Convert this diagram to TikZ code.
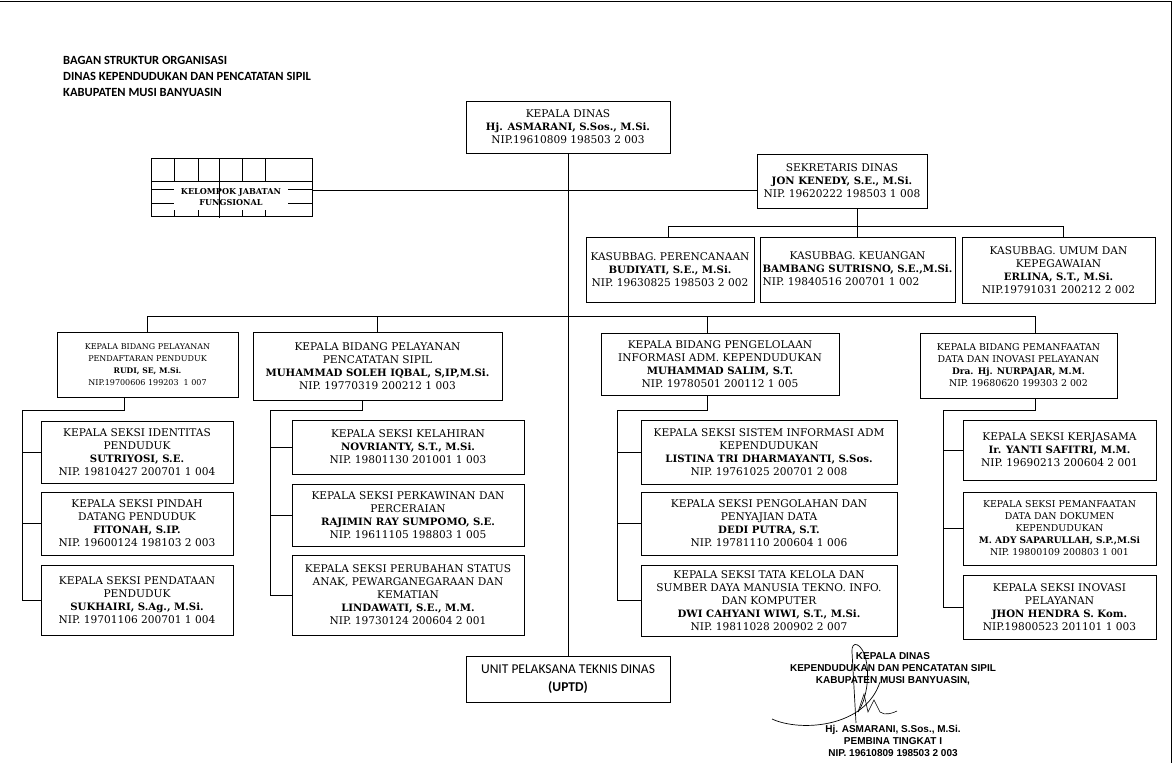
\documentclass[tikz,border=0pt]{standalone}
\usepackage{fontspec}
\setmainfont{DejaVu Serif}
\newfontfamily\judulfont{Carlito}
\newfontfamily\ttdfont{Liberation Sans}
\usepackage{tikz}
\usetikzlibrary{positioning}
\usetikzlibrary{calc}
\newcommand{\jbox}[6][]{\node(#2)[jab,minimum width=#4pt,minimum height=#5pt,#1] at (#3) {#6}}
\newcommand{\nama}[1]{{\bfseries\fontsize{\dimexpr0.96\dimexpr\csname f@size\endcsname pt\relax}{0}\selectfont #1}}

\begin{document}
\begin{tikzpicture}[
        x=1pt, y=-1pt,
        jab/.style={rectangle,draw=black,line width=0.9pt,align=center,inner sep=1pt,
                    font=\fontsize{10.6}{13}\selectfont},
        kecil/.style={font=\fontsize{8}{12}\selectfont},
        sedang/.style={font=\fontsize{9.4}{12}\selectfont},
        garis/.style={line width=0.8pt},
        ttd/.style={font=\ttdfont\bfseries\fontsize{10}{12}\selectfont,align=center,inner sep=0pt}
      ]
      \useasboundingbox (0,0) rectangle (1173,763);
      \draw[line width=1pt] (0,1) -- (1171,1) -- (1171,763);

      % judul
      \node(judul)[anchor=north west,align=left,inner sep=0pt,
                   font=\judulfont\bfseries\fontsize{12.5}{16}\selectfont] at (63,56)
        {BAGAN STRUKTUR ORGANISASI\\DINAS KEPENDUDUKAN DAN PENCATATAN SIPIL\\KABUPATEN MUSI BANYUASIN};

      % pimpinan dan sekretariat
      \jbox{kadis}{568,127}{204}{52}{KEPALA DINAS\\ \nama{Hj. ASMARANI, S.Sos., M.Si.}\\ NIP.19610809 198503 2 003};
      \jbox{sekdis}{842,181}{170}{54}{SEKRETARIS DINAS\\ \nama{JON KENEDY, S.E., M.Si.}\\ NIP. 19620222 198503 1 008};
      \jbox{ksb1}{670,269.5}{168}{65}{KASUBBAG. PERENCANAAN\\ \nama{BUDIYATI, S.E., M.Si.}\\ NIP. 19630825 198503 2 002};
      \jbox{ksb2}{857.5,269.5}{195}{65}{KASUBBAG. KEUANGAN\\ \nama{BAMBANG SUTRISNO, S.E.,M.Si.}\\
            \rlap{NIP. 19840516 200701 1 002}\phantom{\nama{BAMBANG SUTRISNO, S.E.,M.Si.}}};
      \jbox{ksb3}{1058.5,270}{193}{66}{KASUBBAG. UMUM DAN\\ KEPEGAWAIAN\\ \nama{ERLINA, S.T., M.Si.}\\ NIP.19791031 200212 2 002};

      % kelompok jabatan fungsional
      \node(kjf)[rectangle,draw=black,line width=0.9pt,minimum width=161pt,minimum height=58pt] at (231.5,187) {};
      \draw[thin] (151,181) -- (312,181);
      \foreach \gx in {174,198,242,265} {\draw[thin] (\gx,158) -- (\gx,181); \draw[thin] (\gx,210) -- (\gx,216);}
      \foreach \gy in {189,203} {\draw[thin] (151,\gy) -- (174,\gy); \draw[thin] (288,\gy) -- (312,\gy);}
      \node(kjftext)[align=center,fill=white,inner sep=1pt,font=\bfseries\fontsize{8.1}{11}\selectfont] at (231,197.5) {KELOMPOK JABATAN\\FUNGSIONAL};
      \draw (219,158) -- (219,218);

      % bidang
      \jbox[kecil]{bid1}{147.5,364.5}{181}{65}{KEPALA BIDANG PELAYANAN\\ PENDAFTARAN PENDUDUK\\ \nama{RUDI, SE, M.Si.}\\ NIP.19700606 199203\ \ 1 007};
      \jbox{bid2}{377.5,366}{249}{68}{KEPALA BIDANG PELAYANAN\\ PENCATATAN SIPIL\\ \nama{MUHAMMAD SOLEH IQBAL, S,IP,M.Si.}\\ NIP. 19770319 200212 1 003};
      \jbox{bid3}{720,364}{238}{62}{KEPALA BIDANG PENGELOLAAN\\ INFORMASI ADM. KEPENDUDUKAN\\ \nama{MUHAMMAD SALIM, S.T.}\\ NIP. 19780501 200112 1 005};
      \jbox[sedang]{bid4}{1018.5,365.5}{197}{65}{KEPALA BIDANG PEMANFAATAN\\ DATA DAN INOVASI PELAYANAN\\ \nama{Dra. Hj. NURPAJAR, M.M.}\\ NIP. 19680620 199303 2 002};

      % seksi
      \jbox{s11}{137,452}{192}{62}{KEPALA SEKSI IDENTITAS\\ PENDUDUK\\ \nama{SUTRIYOSI, S.E.}\\ NIP. 19810427 200701 1 004};
      \jbox{s12}{137,523.5}{192}{63}{KEPALA SEKSI PINDAH\\ DATANG PENDUDUK\\ \nama{FITONAH, S.IP.}\\ NIP. 19600124 198103 2 003};
      \jbox{s13}{137,600}{192}{70}{KEPALA SEKSI PENDATAAN\\ PENDUDUK\\ \nama{SUKHAIRI, S.Ag., M.Si.}\\ NIP. 19701106 200701 1 004};
      \jbox{s21}{408,447}{232}{54}{KEPALA SEKSI KELAHIRAN\\ \nama{NOVRIANTY, S.T., M.Si.}\\ NIP. 19801130 201001 1 003};
      \jbox{s22}{408,515}{232}{62}{KEPALA SEKSI PERKAWINAN DAN\\ PERCERAIAN\\ \nama{RAJIMIN RAY SUMPOMO, S.E.}\\ NIP. 19611105 198803 1 005};
      \jbox{s23}{408,595}{232}{80}{KEPALA SEKSI PERUBAHAN STATUS\\ ANAK, PEWARGANEGARAAN DAN\\ KEMATIAN\\ \nama{LINDAWATI, S.E., M.M.}\\ NIP. 19730124 200604 2 001};
      \jbox{s31}{769,452}{256}{64}{KEPALA SEKSI SISTEM INFORMASI ADM\\ KEPENDUDUKAN\\ \nama{LISTINA TRI DHARMAYANTI, S.Sos.}\\ NIP. 19761025 200701 2 008};
      \jbox{s32}{769,523.5}{256}{63}{KEPALA SEKSI PENGOLAHAN DAN\\ PENYAJIAN DATA\\ \nama{DEDI PUTRA, S.T.}\\ NIP. 19781110 200604 1 006};
      \jbox{s33}{769,600.5}{256}{71}{KEPALA SEKSI TATA KELOLA DAN\\ SUMBER DAYA MANUSIA TEKNO. INFO.\\ DAN KOMPUTER\\ \nama{DWI CAHYANI WIWI, S.T., M.Si.}\\ NIP. 19811028 200902 2 007};
      \jbox{s41}{1059.5,450}{193}{60}{KEPALA SEKSI KERJASAMA\\ \nama{Ir. YANTI SAFITRI, M.M.}\\ NIP. 19690213 200604 2 001};
      \jbox[sedang]{s42}{1059.5,528.5}{193}{73}{KEPALA SEKSI PEMANFAATAN\\ DATA DAN DOKUMEN\\ KEPENDUDUKAN\\ \nama{M. ADY SAPARULLAH, S.P.,M.Si}\\ NIP. 19800109 200803 1 001};
      \jbox{s43}{1059.5,607}{193}{64}{KEPALA SEKSI INOVASI\\ PELAYANAN\\ \nama{JHON HENDRA S. Kom.}\\ NIP.19800523 201101 1 003};

      % uptd
      \node(uptd)[rectangle,draw=black,line width=0.9pt,align=center,minimum width=204pt,minimum height=46pt,
                  font=\judulfont\fontsize{13.5}{18}\selectfont] at (568,679) {UNIT PELAKSANA TEKNIS DINAS\\ \textbf{(UPTD)}};

      % garis komando
      \draw[garis] (kadis.south) -- (uptd.north);
      \draw[garis] ([yshift=-3pt]kjf.east) -- ([yshift=-3pt]kjf.east -| sekdis.west);
      \draw[garis] (sekdis.south -| ksb2.north) -- (ksb2.north);
      \coordinate (sbus) at (0,226);
      \coordinate (k3n) at ([xshift=4.5pt]ksb3.north);
      \draw[garis] ([xshift=-2pt]ksb1.north) |- (sbus -| k3n) -- (k3n);

      \coordinate (bbus) at (0,316);
      \coordinate (bn3) at ([xshift=-13pt]bid3.north);
      \coordinate (bn4) at ([xshift=17pt]bid4.north);
      \draw[garis] (bid1.north) |- (bbus -| bn4) -- (bn4);
      \draw[garis] (bid2.north) -- (bid2.north |- bbus);
      \draw[garis] (bn3) -- (bn3 |- bbus);

      \coordinate (bs1) at ([xshift=-23pt]bid1.south);
      \coordinate (bs2) at ([xshift=-15pt]bid2.south);
      \coordinate (bs3) at ([xshift=-13pt]bid3.south);
      \coordinate (bs4) at ([xshift=17pt]bid4.south);
      \foreach \k/\rx in {1/22,2/270,3/617,4/943} {
        \coordinate (r\k) at (\rx,410);
        \draw[garis] (bs\k) |- (r\k) |- (s\k3.west);
        \draw[garis] (r\k |- s\k1.west) -- (s\k1.west);
        \draw[garis] (r\k |- s\k2.west) -- (s\k2.west);
      }

      % pengesahan
      \node(ttdatas)[ttd] at (893,669) {KEPALA DINAS\\KEPENDUDUKAN DAN PENCATATAN SIPIL\\KABUPATEN MUSI BANYUASIN,};
      \node(ttdbawah)[ttd] at (893,741) {Hj. ASMARANI, S.Sos., M.Si.\\PEMBINA TINGKAT I\\NIP. 19610809 198503 2 003};
      \draw[line width=0.7pt] (772,719) .. controls (800,732) and (865,728) .. (880,682);
      \draw[line width=0.7pt] (856,723) -- (852,652) .. controls (851,640) and (862,642) .. (866,660)
            .. controls (870,678) and (866,700) .. (858,712);
      \draw[line width=0.6pt] (858,712) -- (864,694) -- (868,712) -- (874,700) -- (880,712)
            .. controls (885,716) and (893,713) .. (897,711);
    \end{tikzpicture}
\end{document}
